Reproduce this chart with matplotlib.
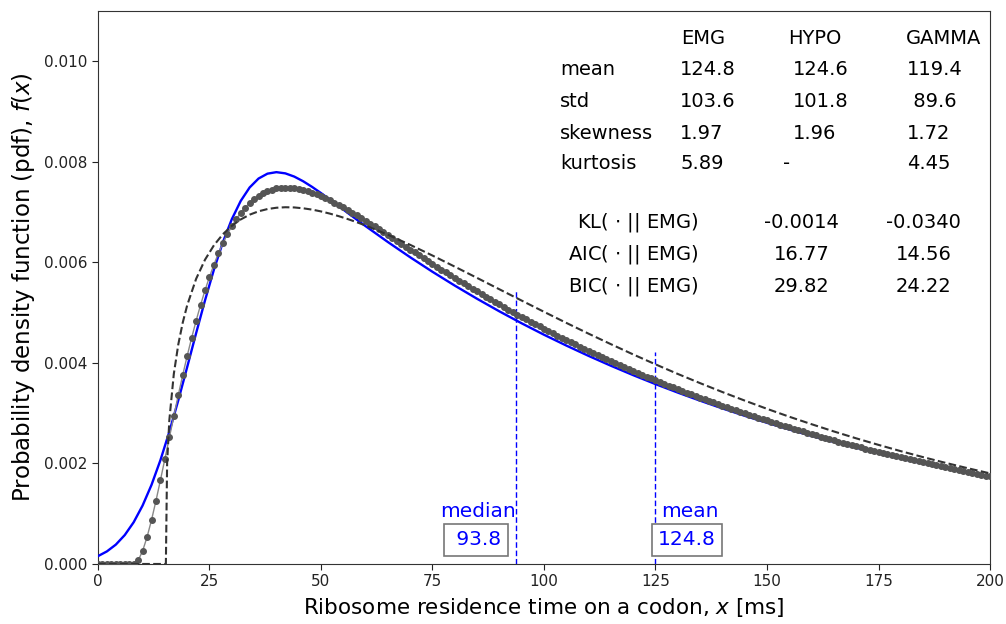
import matplotlib
matplotlib.use("Agg")
import matplotlib.pyplot as plt

# residence time grid [ms] and pdf values (in units of 1e-4)
hypo_ms = list(range(0, 201))
hypo_pdf = [0, 0, 0, 0, 0, 0, 0, 0, 0, 0.70,
            2.58, 5.35, 8.74, 12.57, 16.67, 20.91, 25.20, 29.45, 33.59, 37.58,
            41.39, 44.99, 48.38, 51.52, 54.44, 57.12, 59.56, 61.79, 63.79, 65.59,
            67.18, 68.60, 69.83, 70.90, 71.82, 72.59, 73.24, 73.76, 74.17, 74.47,
            74.69, 74.81, 74.86, 74.83, 74.74, 74.58, 74.39, 74.13, 73.84, 73.52,
            73.14, 72.75, 72.32, 71.87, 71.39, 70.91, 70.41, 69.89, 69.35, 68.82,
            68.27, 67.72, 67.15, 66.58, 66.00, 65.44, 64.86, 64.28, 63.70, 63.12,
            62.54, 61.96, 61.39, 60.82, 60.25, 59.67, 59.11, 58.55, 57.99, 57.44,
            56.90, 56.35, 55.80, 55.26, 54.73, 54.20, 53.67, 53.15, 52.64, 52.12,
            51.62, 51.11, 50.61, 50.12, 49.62, 49.14, 48.66, 48.18, 47.71, 47.24,
            46.79, 46.33, 45.87, 45.42, 44.98, 44.53, 44.09, 43.66, 43.23, 42.81,
            42.39, 41.97, 41.55, 41.15, 40.74, 40.34, 39.94, 39.55, 39.16, 38.78,
            38.39, 38.02, 37.64, 37.27, 36.90, 36.54, 36.18, 35.83, 35.47, 35.12,
            34.78, 34.43, 34.10, 33.76, 33.43, 33.10, 32.77, 32.45, 32.13, 31.82,
            31.50, 31.19, 30.88, 30.58, 30.28, 29.98, 29.69, 29.39, 29.11, 28.82,
            28.54, 28.25, 27.98, 27.70, 27.43, 27.16, 26.89, 26.63, 26.36, 26.10,
            25.85, 25.59, 25.34, 25.09, 24.85, 24.60, 24.36, 24.12, 23.88, 23.65,
            23.41, 23.18, 22.96, 22.73, 22.51, 22.28, 22.06, 21.85, 21.63, 21.42,
            21.21, 21.00, 20.79, 20.59, 20.39, 20.19, 19.99, 19.79, 19.60, 19.40,
            19.21, 19.02, 18.84, 18.65, 18.47, 18.29, 18.10, 17.93, 17.75, 17.58,
            17.40]

emg_ms = list(range(0, 61, 2)) + list(range(65, 201, 5))
emg_pdf = [1.56, 2.50, 3.85, 5.75, 8.30, 11.62, 15.73, 20.65, 26.30, 32.54,
           39.17, 45.90, 52.45, 58.57, 63.99, 68.57, 72.21, 74.89, 76.67, 77.64,
           77.94, 77.70, 77.06, 76.13, 75.01, 73.78, 72.49, 71.16, 69.83, 68.51,
           67.20,
           64.04, 61.01, 58.12, 55.37, 52.75, 50.25, 47.87, 45.60, 43.45, 41.39,
           39.43, 37.56, 35.78, 34.09, 32.48, 30.94, 29.47, 28.08, 26.75, 25.48,
           24.28, 23.13, 22.03, 20.99, 20.00, 19.05, 18.15, 17.29]

gamma_ms = [0, 15.22, 15.5, 16, 17, 18, 19, 20] + list(range(22, 61, 2)) + list(range(65, 201, 5))
gamma_pdf = [0, 0, 20.09, 28.63, 37.79, 43.64, 48.00, 51.46,
             56.71, 60.53, 63.40, 65.59, 67.26, 68.53, 69.48, 70.15, 70.60, 70.86,
             70.96, 70.92, 70.75, 70.49, 70.13, 69.69, 69.18, 68.61, 67.99, 67.33,
             65.49, 63.48, 61.35, 59.14, 56.90, 54.64, 52.39, 50.16, 47.96, 45.81,
             43.72, 41.68, 39.71, 37.80, 35.97, 34.20, 32.50, 30.86, 29.29, 27.80,
             26.36, 24.99, 23.69, 22.44, 21.25, 20.12, 19.05, 18.02]

# EMG median / mean markers
marker_names = ["median", "mean"]
marker_ms = [93.8, 124.8]
marker_top = [0.00547, 0.00421]
marker_labels = [" 93.8", "124.8"]

# summary table
models = ["EMG", "HYPO", "GAMMA"]
stat_names = ["mean", "std", "skewness", "kurtosis"]
stat_vals = [["124.8", "124.6", "119.4"],
             ["103.6", "101.8", " 89.6"],
             ["1.97", "1.96", "1.72"],
             ["5.89", "-", "4.45"]]
crit_names = ["KL( $\\cdot$ || EMG)", "AIC( $\\cdot$ || EMG)", "BIC( $\\cdot$ || EMG)"]
crit_vals = [["-0.0014", "-0.0340"],
             ["16.77", "14.56"],
             ["29.82", "24.22"]]

plt.rcParams['font.family'] = ['DejaVu Sans']
plt.rcParams['mathtext.fontset'] = 'dejavusans'

fig = plt.figure(figsize=(10.06, 6.24), dpi=100)
ax = fig.add_axes([0.0974, 0.0962, 0.8867, 0.8862])

ax.plot(emg_ms, [v * 1e-4 for v in emg_pdf], color='#0000ff', lw=1.7, zorder=3)
ax.plot(hypo_ms, [v * 1e-4 for v in hypo_pdf], color='#888888', lw=1.0,
        marker='o', ms=4.0, mfc='#555555', mec='#555555', zorder=4)
ax.plot(gamma_ms, [v * 1e-4 for v in gamma_pdf], color='#333333', lw=1.5,
        ls='--', zorder=5)

for xm, top in zip(marker_ms, marker_top):
    ax.plot([xm, xm], [0, top], color='#0000ff', lw=1.0, ls=(0, (4, 2)), zorder=2)

ax.set_xlim(0, 200)
ax.set_ylim(0, 0.011)
ax.set_xticks([0, 25, 50, 75, 100, 125, 150, 175, 200])
ax.set_yticks([0.000, 0.002, 0.004, 0.006, 0.008, 0.010])
ax.set_yticklabels(["0.000", "0.002", "0.004", "0.006", "0.008", "0.010"])
ax.tick_params(labelsize=11, colors='#222222', length=4)
for s in ax.spines.values():
    s.set_color('#333333')

ax.set_xlabel("Ribosome residence time on a codon, $x$ [ms]", fontsize=15.5, labelpad=5)
ax.set_ylabel("Probability density function (pdf), $f(x)$", fontsize=16.5, labelpad=5)

# median / mean annotations
ann_x = [0.426, 0.6637]
box_x = [0.4238, 0.660]
for name, lab, xa, xb in zip(marker_names, marker_labels, ann_x, box_x):
    ax.text(xa, 0.094, name, transform=ax.transAxes, color='#0000ff',
            fontsize=14.5, ha='center', va='center')
    ax.text(xb, 0.0434, lab, transform=ax.transAxes, color='#0000ff',
            fontsize=14.5, ha='center', va='center',
            bbox=dict(boxstyle='square,pad=0.3', fc='white', ec='#777777', lw=1.2))

# statistics table
fs = 14
head_x = [0.679, 0.804, 0.948]
col_x = [0.6525, 0.779, 0.907]
row_y = [0.8933, 0.836, 0.7788, 0.7233]
for m, hx in zip(models, head_x):
    ax.text(hx, 0.9506, m, transform=ax.transAxes, fontsize=fs, ha='center', va='center')
for name, vals, ry in zip(stat_names, stat_vals, row_y):
    ax.text(0.518, ry, name, transform=ax.transAxes, fontsize=fs, ha='left', va='center')
    for v, cx in zip(vals, col_x):
        if v == "-":
            cx -= 0.011
        ax.text(cx, ry, v, transform=ax.transAxes, fontsize=fs, ha='left', va='center')

crit_y = [(564 - 223) / 553, (564 - 255) / 553, (564 - 287) / 553]
crit_col = [0.789, 0.9254]
for name, vals, ry in zip(crit_names, crit_vals, crit_y):
    ax.text(0.6735, ry, name, transform=ax.transAxes, fontsize=fs, ha='right', va='center')
    for v, cx in zip(vals, crit_col):
        ax.text(cx, ry, v, transform=ax.transAxes, fontsize=fs, ha='center', va='center')

fig.savefig("out.png", dpi=100)
